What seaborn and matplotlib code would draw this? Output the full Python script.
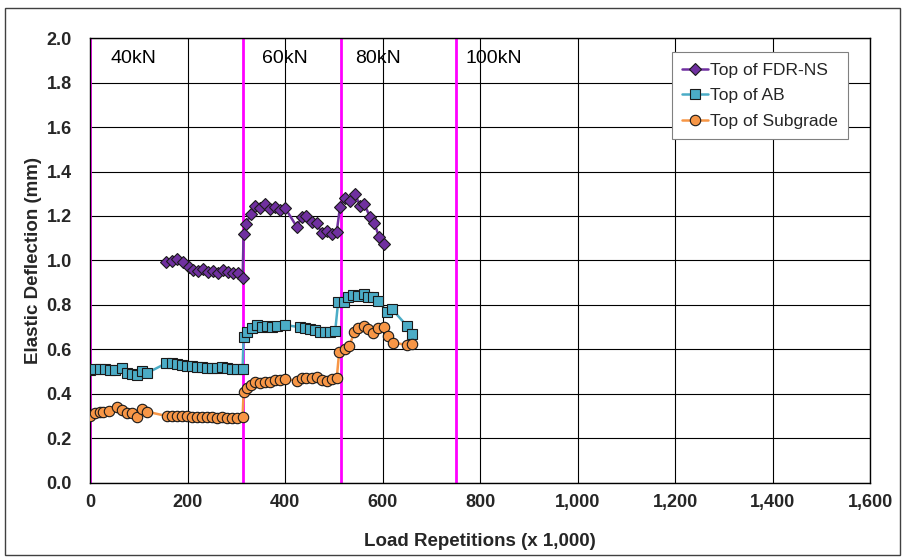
import matplotlib
matplotlib.use("Agg")
import matplotlib.pyplot as plt
import matplotlib.ticker as mticker
from matplotlib.patches import Rectangle
import seaborn as sns
import pandas as pd

# ---------------- data ----------------
fdr_x = [156, 168, 179, 191, 202, 212, 222, 232, 243, 253, 263, 273, 284, 294, 304, 313,
         315, 320, 330, 338, 349, 359, 369, 379, 390, 400, 424, 434, 444, 455, 465, 475,
         486, 496, 506, 513, 523, 533, 544, 554, 563, 574, 583, 593, 603]
fdr_y = [0.993, 0.999, 1.007, 0.995, 0.969, 0.957, 0.954, 0.962, 0.950, 0.953, 0.945, 0.957,
         0.950, 0.945, 0.942, 0.920,
         1.119, 1.164, 1.209, 1.246, 1.237, 1.254, 1.231, 1.242, 1.227, 1.237, 1.152, 1.194,
         1.200, 1.175, 1.167, 1.125, 1.134, 1.119, 1.130, 1.242, 1.280, 1.269, 1.297, 1.245,
         1.252, 1.197, 1.167, 1.107, 1.074]

ab_x = [0, 10, 21, 31, 41, 51, 65, 75, 86, 96, 106, 116,
        156, 168, 178, 188, 198, 209, 219, 229, 239, 250, 260, 270, 280, 291, 301, 313,
        315, 321, 332, 342, 352, 362, 373, 383, 400, 431, 441, 451, 462, 472, 482, 492, 503,
        509, 520, 530, 540, 550, 561, 571, 581, 591, 609, 620, 650, 660]
ab_y = [0.508, 0.511, 0.511, 0.511, 0.508, 0.508, 0.518, 0.496, 0.488, 0.485, 0.503, 0.493,
        0.538, 0.538, 0.535, 0.530, 0.526, 0.526, 0.520, 0.520, 0.518, 0.518, 0.515, 0.520,
        0.515, 0.512, 0.512, 0.512,
        0.657, 0.680, 0.695, 0.710, 0.700, 0.707, 0.700, 0.707, 0.710, 0.700, 0.695, 0.692,
        0.688, 0.680, 0.677, 0.680, 0.685,
        0.815, 0.815, 0.834, 0.845, 0.840, 0.849, 0.837, 0.834, 0.819, 0.770, 0.780, 0.706,
        0.668]

sg_x = [0, 10, 21, 27, 38, 55, 65, 75, 86, 96, 106, 116,
        157, 168, 178, 188, 198, 209, 219, 229, 239, 250, 260, 270, 280, 291, 301, 313,
        315, 321, 330, 338, 349, 359, 369, 379, 390, 400, 424, 434, 444, 455, 465, 475, 486,
        496, 506, 511, 523, 532, 542, 550, 561, 571, 581, 591, 602, 612, 622, 650, 660]
sg_y = [0.301, 0.313, 0.318, 0.321, 0.325, 0.343, 0.328, 0.316, 0.313, 0.298, 0.333, 0.321,
        0.301, 0.301, 0.301, 0.301, 0.301, 0.298, 0.298, 0.295, 0.295, 0.295, 0.291, 0.298,
        0.294, 0.291, 0.291, 0.298,
        0.410, 0.426, 0.440, 0.455, 0.448, 0.455, 0.452, 0.463, 0.463, 0.467, 0.460, 0.470,
        0.470, 0.470, 0.475, 0.463, 0.460, 0.466, 0.470,
        0.587, 0.601, 0.616, 0.677, 0.695, 0.706, 0.691, 0.673, 0.695, 0.702, 0.661, 0.631,
        0.620, 0.623]

series_names = ["Top of FDR-NS", "Top of AB", "Top of Subgrade"]
load_x = [0, 314, 515, 751]
load_labels = ["40kN", "60kN", "80kN", "100kN"]
label_x = [41, 353, 544, 771]

# ---------------- plot ----------------
sns.set_theme(style="white")
plt.rcParams["font.family"] = ["Liberation Sans", "DejaVu Sans"]

fig = plt.figure(figsize=(9.04, 5.59), dpi=100)
ax = fig.add_axes([0.0996, 0.136, 0.8628, 0.796])

for xv in load_x:
    ax.axvline(xv, color="#FF00FF", lw=2, zorder=2)

styles = [
    dict(color="#7030A0", marker="D", markersize=6, mfc="#7030A0"),
    dict(color="#4BACC6", marker="s", markersize=7.5, mfc="#4BACC6"),
    dict(color="#F79646", marker="o", markersize=7.5, mfc="#F79646"),
]
datas = [(fdr_x, fdr_y), (ab_x, ab_y), (sg_x, sg_y)]
for (xs, ys), name, st in zip(datas, series_names, styles):
    df = pd.DataFrame({"x": xs, "y": ys})
    sns.lineplot(data=df, x="x", y="y", ax=ax, sort=False, estimator=None,
                 label=name, lw=1.8, mec="#1a1a1a", mew=0.8, zorder=3, **st)

for lx, lt in zip(label_x, load_labels):
    ax.text(lx, 1.91, lt, fontsize=14, va="center", ha="left", color="black")

ax.set_xlim(0, 1600)
ax.set_ylim(0, 2.0)
ax.xaxis.set_major_locator(mticker.MultipleLocator(200))
ax.yaxis.set_major_locator(mticker.MultipleLocator(0.2))
ax.xaxis.set_major_formatter(mticker.FuncFormatter(lambda v, p: f"{int(v):,}"))
ax.yaxis.set_major_formatter(mticker.FormatStrFormatter("%.1f"))
ax.grid(True, color="black", lw=0.8)
ax.set_axisbelow(True)
for s in ax.spines.values():
    s.set_color("black")
    s.set_linewidth(1)
ax.tick_params(axis="both", direction="out", length=4, width=0.8, color="black",
               labelsize=13)
ax.tick_params(axis="y", pad=9)
ax.tick_params(axis="x", pad=4)
for lab in ax.get_xticklabels() + ax.get_yticklabels():
    lab.set_fontweight("bold")

ax.set_xlabel("Load Repetitions (x 1,000)", fontsize=13.5, fontweight="bold", labelpad=16)
ax.set_ylabel("Elastic Deflection (mm)", fontsize=13.5, fontweight="bold", labelpad=3)

leg = ax.legend(loc="upper right", bbox_to_anchor=(0.972, 0.968), fontsize=12.5,
                frameon=True, fancybox=False, edgecolor="#808080", framealpha=1,
                handlelength=1.5, borderpad=0.6, labelspacing=0.6, handletextpad=0.1,
                borderaxespad=0)
leg.get_frame().set_linewidth(0.8)

fig.patches.append(Rectangle((0.006, 0.007), 0.99, 0.978, transform=fig.transFigure,
                             fill=False, edgecolor="#404040", lw=1))

fig.savefig("out.png", dpi=100)
